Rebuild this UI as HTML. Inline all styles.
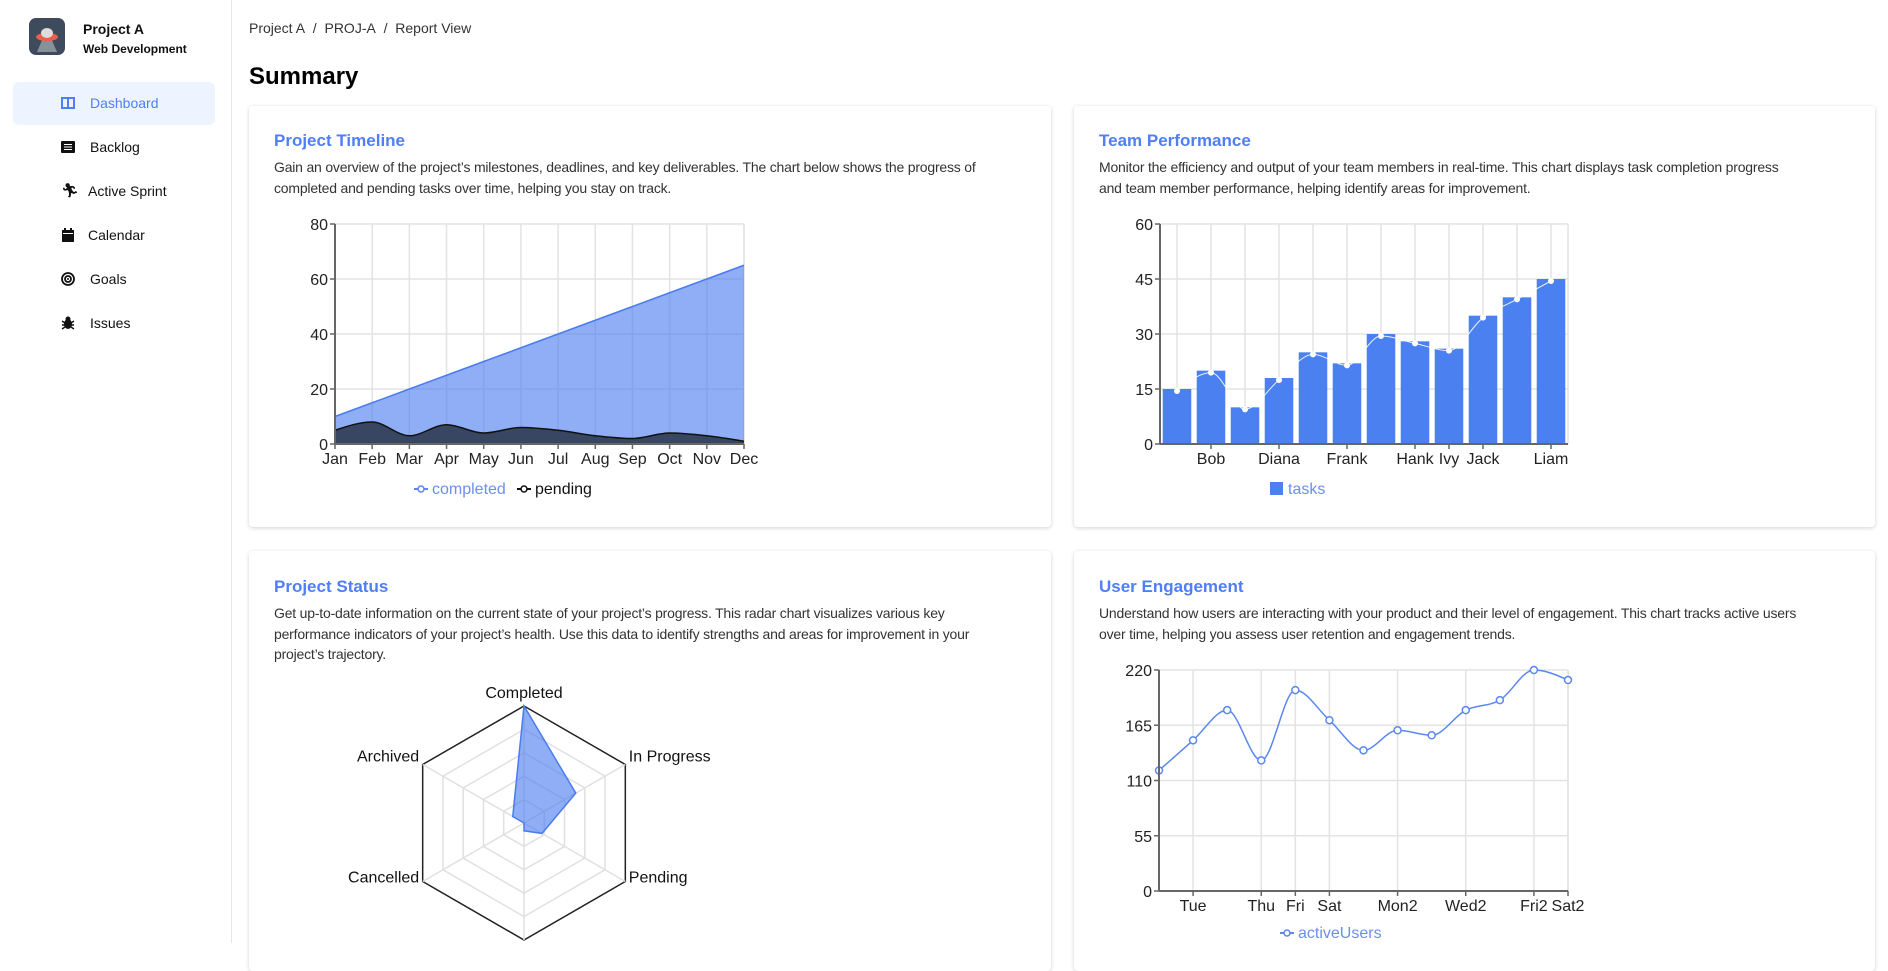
<!DOCTYPE html>
<html><head><meta charset="utf-8">
<style>
*{box-sizing:border-box;margin:0;padding:0}
body{width:1888px;height:943px;overflow:hidden;background:#fff;font-family:"Liberation Sans",sans-serif;color:#222;position:relative}
.sidebar{position:absolute;left:0;top:0;width:232px;height:943px;border-right:1px solid #e6e6e6;background:#fff}
.logo{position:absolute;left:29px;top:18px;width:36px;height:37px;border-radius:7px;background:#3d4b5c}
.pname{position:absolute;left:83px;top:21px;font-size:14px;font-weight:bold;color:#111}
.psub{position:absolute;left:83px;top:42px;font-size:12px;font-weight:bold;color:#111}
.nav{position:absolute;left:13px;width:202px;height:43px;border-radius:6px;font-size:14px;color:#111}
.nav.active{background:#eef4ff;color:#4f7ef7}
.nav .ic{position:absolute;left:48px;top:14px;width:14px;height:14px}
.nav .tx{position:absolute;left:77px;top:13px}
.crumb{position:absolute;left:249px;top:20px;font-size:14px;color:#333}
.title{position:absolute;left:249px;top:63px;font-size:24px;font-weight:bold;color:#000}
.card{position:absolute;background:#fff;border-radius:4px;box-shadow:0 1px 4px rgba(0,0,0,0.18)}
.ct{position:absolute;left:25px;font-size:17px;font-weight:bold;color:#4f7ef7}
.cd{position:absolute;left:25px;font-size:14px;line-height:20.5px;color:#333;white-space:nowrap;letter-spacing:-0.2px}
svg#charts{position:absolute;left:0;top:0}
svg text{font-family:"Liberation Sans",sans-serif}
</style></head><body>
<div class="sidebar">
  <div class="logo">
    <svg width="36" height="37"><polygon points="14,20 22,20 28,34 8,34" fill="#8a9098"/><ellipse cx="18" cy="19" rx="11" ry="4" fill="#e8604c"/><ellipse cx="18" cy="15" rx="6" ry="5" fill="#ddd"/></svg>
  </div>
  <div class="pname">Project A</div>
  <div class="psub">Web Development</div>
  <div class="nav active" style="top:82px"><svg class="ic" viewBox="0 0 14 14"><rect x="1" y="2" width="12" height="10" fill="none" stroke="#4f7ef7" stroke-width="2"/><line x1="7" y1="2" x2="7" y2="12" stroke="#4f7ef7" stroke-width="2"/></svg><span class="tx">Dashboard</span></div>
  <div class="nav" style="top:126px"><svg class="ic" viewBox="0 0 14 14"><rect x="0" y="1" width="14" height="12" rx="1" fill="#111"/><line x1="3" y1="4.5" x2="11" y2="4.5" stroke="#fff"/><line x1="3" y1="7" x2="11" y2="7" stroke="#fff"/><line x1="3" y1="9.5" x2="11" y2="9.5" stroke="#fff"/></svg><span class="tx">Backlog</span></div>
  <div class="nav" style="top:170px"><span class="ic" style="font-size:14px;top:12px">🏃&#xFE0E;</span><span class="tx" style="left:75px">Active Sprint</span></div>
  <div class="nav" style="top:214px"><svg class="ic" viewBox="0 0 14 14"><rect x="1" y="2" width="12" height="12" fill="#111"/><rect x="3" y="0" width="2" height="3" fill="#111"/><rect x="9" y="0" width="2" height="3" fill="#111"/><rect x="2" y="5" width="10" height="1" fill="#fff"/></svg><span class="tx" style="left:75px">Calendar</span></div>
  <div class="nav" style="top:258px"><svg class="ic" viewBox="0 0 14 14"><circle cx="7" cy="7" r="6" fill="none" stroke="#111" stroke-width="1.8"/><circle cx="7" cy="7" r="3" fill="none" stroke="#111" stroke-width="1.8"/><circle cx="7" cy="7" r="1" fill="#111"/></svg><span class="tx">Goals</span></div>
  <div class="nav" style="top:302px"><svg class="ic" viewBox="0 0 14 14"><ellipse cx="7" cy="8" rx="4" ry="5" fill="#111"/><circle cx="7" cy="3" r="2.5" fill="#111"/><path d="M1 5 L4 7 M1 9 H4 M1 13 L4 11 M13 5 L10 7 M13 9 H10 M13 13 L10 11" stroke="#111" stroke-width="1.4"/></svg><span class="tx">Issues</span></div>
</div>
<div class="crumb"><span>Project A</span>&nbsp;&nbsp;/&nbsp;&nbsp;<span>PROJ-A</span>&nbsp;&nbsp;/&nbsp;&nbsp;<span>Report View</span></div>
<div class="title">Summary</div>

<div class="card" style="left:249px;top:106px;width:802px;height:421px">
  <div class="ct" style="top:25px">Project Timeline</div>
  <div class="cd" style="top:51px">Gain an overview of the project’s milestones, deadlines, and key deliverables. The chart below shows the progress of<br>completed and pending tasks over time, helping you stay on track.</div>
</div>
<div class="card" style="left:1074px;top:106px;width:801px;height:421px">
  <div class="ct" style="top:25px">Team Performance</div>
  <div class="cd" style="top:51px">Monitor the efficiency and output of your team members in real-time. This chart displays task completion progress<br>and team member performance, helping identify areas for improvement.</div>
</div>
<div class="card" style="left:249px;top:551px;width:802px;height:420px">
  <div class="ct" style="top:26px">Project Status</div>
  <div class="cd" style="top:52px">Get up-to-date information on the current state of your project’s progress. This radar chart visualizes various key<br>performance indicators of your project’s health. Use this data to identify strengths and areas for improvement in your<br>project’s trajectory.</div>
</div>
<div class="card" style="left:1074px;top:551px;width:801px;height:420px">
  <div class="ct" style="top:26px">User Engagement</div>
  <div class="cd" style="top:52px">Understand how users are interacting with your product and their level of engagement. This chart tracks active users<br>over time, helping you assess user retention and engagement trends.</div>
</div>

<svg id="charts" width="1888" height="943"></svg>
<script>
// ---- Timeline data ----
const months = ["Jan","Feb","Mar","Apr","May","Jun","Jul","Aug","Sep","Oct","Nov","Dec"];
const completed = [10,15,20,25,30,35,40,45,50,55,60,65];
const pending = [5,8,3,7,4,6,5,3,2,4,3,1];
const timelineTicks = [0,20,40,60,80];
// ---- Team data ----
const members = ["Alice","Bob","Charlie","Diana","Eve","Frank","Grace","Hank","Ivy","Jack","Kate","Liam"];
const tasks = [15,20,10,18,25,22,30,28,26,35,40,45];
const memberLabelsShown = ["Bob","Diana","Frank","Hank","Ivy","Jack","Liam"];
const teamTicks = [0,15,30,45,60];
// ---- Radar data ----
const statusAxes = ["Completed","In Progress","Pending","On Hold","Cancelled","Archived"];
const statusValues = [45,23,8,3,0,5];
const statusMax = 45;
// ---- Engagement data ----
const days = ["Mon","Tue","Wed","Thu","Fri","Sat","Sun","Mon2","Tue2","Wed2","Thu2","Fri2","Sat2"];
const activeUsers = [120,150,180,130,200,170,140,160,155,180,190,220,210];
const dayLabelsShown = ["Tue","Thu","Fri","Sat","Mon2","Wed2","Fri2","Sat2"];
const userTicks = [0,55,110,165,220];

const NS="http://www.w3.org/2000/svg";
const svg=document.getElementById('charts');
function el(tag,attrs,parent){const e=document.createElementNS(NS,tag);for(const k in attrs)e.setAttribute(k,attrs[k]);(parent||svg).appendChild(e);return e;}
function txt(s,attrs,parent){const t=el('text',attrs,parent);t.textContent=s;return t;}
function monotone(p){
  const n=p.length;if(n<2)return "";
  const t=new Array(n);const s=[];
  for(let i=0;i<n-1;i++)s.push((p[i+1][1]-p[i][1])/(p[i+1][0]-p[i][0]));
  for(let i=1;i<n-1;i++){
    const h0=p[i][0]-p[i-1][0],h1=p[i+1][0]-p[i][0],s0=s[i-1],s1=s[i];
    const q=(s0*h1+s1*h0)/(h0+h1);
    t[i]=(Math.sign(s0)+Math.sign(s1))*Math.min(Math.abs(s0),Math.abs(s1),0.5*Math.abs(q))||0;
  }
  t[0]=n>2?(3*s[0]-t[1])/2:s[0];t[n-1]=n>2?(3*s[n-2]-t[n-2])/2:s[n-2];
  let d="M"+p[0][0]+","+p[0][1];
  for(let i=0;i<n-1;i++){const dx=(p[i+1][0]-p[i][0])/3;
    d+=" C"+(p[i][0]+dx)+","+(p[i][1]+dx*t[i])+" "+(p[i+1][0]-dx)+","+(p[i+1][1]-dx*t[i+1])+" "+p[i+1][0]+","+p[i+1][1];}
  return d;
}
function frame(g,x0,x1,y0,y1,ticks,ymax){
  const ys=v=>y1-(v/ymax)*(y1-y0);
  ticks.forEach(v=>{
    const gl=el('line',{x1:x0,x2:x1,y1:ys(v),y2:ys(v),stroke:'#e3e3e3','stroke-width':1.5},g);
    
    el('line',{x1:x0-5,x2:x0,y1:ys(v),y2:ys(v),stroke:'#666','stroke-width':1.5},g);
    const t=txt(String(v),{x:x0-7,y:ys(v)+6,'text-anchor':'end','font-size':16,fill:'#222'},g);
    
  });
  el('line',{x1:x1,x2:x1,y1:y0,y2:y1,stroke:'#e3e3e3','stroke-width':1.5},g);
  return ys;
}
function axes(g,x0,x1,y0,y1){
  el('line',{x1:x0,x2:x0,y1:y0,y2:y1,stroke:'#666','stroke-width':2},g);
  el('line',{x1:x0,x2:x1,y1:y1,y2:y1,stroke:'#666','stroke-width':2},g);
}

// ===== Timeline =====
(function(){
  const g=el('g',{});
  
  const X0=335,X1=744,Y0=224,Y1=444;
  const ys=frame(g,X0,X1,Y0,Y1,timelineTicks,80);
  const xs=i=>X0+i*(X1-X0)/(months.length-1);
  months.forEach((m,i)=>{
    el('line',{x1:xs(i),x2:xs(i),y1:Y0,y2:Y1,stroke:'#e3e3e3','stroke-width':1.5},g);
  });
  const cp=completed.map((v,i)=>[xs(i),ys(v)]);
  const ca=el('path',{d:"M"+cp.map(p=>p.join(",")).join(" L")+" L"+X1+","+Y1+" L"+X0+","+Y1+"Z",fill:'#4a7cf0','fill-opacity':0.62,stroke:'none'},g);
  
  el('path',{d:"M"+cp.map(p=>p.join(",")).join(" L"),fill:'none',stroke:'#4a7cf0','stroke-width':1.5},g);
  const pp=pending.map((v,i)=>[xs(i),ys(v)]);
  const pd=monotone(pp);
  const pa=el('path',{d:pd+" L"+X1+","+Y1+" L"+X0+","+Y1+"Z",fill:'#34405a','fill-opacity':0.95},g);
  
  el('path',{d:pd,fill:'none',stroke:'#111','stroke-width':1.5},g);
  axes(g,X0,X1,Y0,Y1);
  months.forEach((m,i)=>{
    el('line',{x1:xs(i),x2:xs(i),y1:Y1,y2:Y1+5,stroke:'#666','stroke-width':1.5},g);
    const t=txt(m,{x:xs(i),y:Y1+20,'text-anchor':'middle','font-size':16,fill:'#222'},g);
    
  });
  const lg=el('g',{},g);
  el('line',{x1:414,x2:428,y1:489,y2:489,stroke:'#5b87f0','stroke-width':2},lg);
  el('circle',{cx:421,cy:489,r:3,fill:'#fff',stroke:'#5b87f0','stroke-width':1.5},lg);
  txt('completed',{x:432,y:494,'font-size':16,fill:'#6b8ff0'},lg);
  const lp=el('g',{},g);
  el('line',{x1:517,x2:531,y1:489,y2:489,stroke:'#111','stroke-width':2},lp);
  el('circle',{cx:524,cy:489,r:3,fill:'#fff',stroke:'#111','stroke-width':1.5},lp);
  txt('pending',{x:535,y:494,'font-size':16,fill:'#111'},lp);
})();

// ===== Team =====
(function(){
  const g=el('g',{});
  
  const X0=1160,X1=1568,Y0=224,Y1=444;
  const ys=frame(g,X0,X1,Y0,Y1,teamTicks,60);
  const bw=(X1-X0)/members.length;
  const cx=i=>X0+bw*(i+0.5);
  members.forEach((m,i)=>{
    el('line',{x1:cx(i),x2:cx(i),y1:Y0,y2:Y1,stroke:'#e3e3e3','stroke-width':1.5},g);
  });
  tasks.forEach((v,i)=>{
    const r=el('rect',{x:X0+bw*i+bw*0.08,y:ys(v),width:bw*0.84,height:Y1-ys(v),fill:'#4a80ef'},g);
    
  });
  const lp=tasks.map((v,i)=>[cx(i),ys(v)+2]);
  el('path',{d:monotone(lp),fill:'none',stroke:'#fff','stroke-width':1,'stroke-opacity':0.9},g);
  lp.forEach(p=>{const c=el('circle',{cx:p[0],cy:p[1],r:3,fill:'#fff'},g);
    });
  axes(g,X0,X1,Y0,Y1);
  members.forEach((m,i)=>{
    if(memberLabelsShown.indexOf(m)<0)return;
    el('line',{x1:cx(i),x2:cx(i),y1:Y1,y2:Y1+5,stroke:'#666','stroke-width':1.5},g);
    const t=txt(m,{x:cx(i),y:Y1+20,'text-anchor':'middle','font-size':16,fill:'#222'},g);
    
  });
  const lg=el('g',{},g);
  el('rect',{x:1270,y:482,width:13,height:13,fill:'#4a80ef'},lg);
  txt('tasks',{x:1288,y:494,'font-size':16,fill:'#6b8ff0'},lg);
})();

// ===== Radar =====
(function(){
  const g=el('g',{});
  
  const CX=524,CY=823,R=117,n=statusAxes.length;
  const pt=(i,r)=>[CX+r*Math.sin(2*Math.PI*i/n),CY-r*Math.cos(2*Math.PI*i/n)];
  for(let k=1;k<=5;k++){
    const pts=statusAxes.map((a,i)=>pt(i,R*k/5).join(",")).join(" ");
    el('polygon',{points:pts,fill:'none',stroke:k===5?'#222':'#e0e0e0','stroke-width':1.5},g);
  }
  statusAxes.forEach((a,i)=>{const p=pt(i,R);el('line',{x1:CX,y1:CY,x2:p[0],y2:p[1],stroke:'#e0e0e0','stroke-width':1.5},g);});
  const vp=statusValues.map((v,i)=>pt(i,R*v/statusMax).join(",")).join(" ");
  const poly=el('polygon',{points:vp,fill:'#4a7cf0','fill-opacity':0.62,stroke:'#4a7cf0','stroke-width':1.5},g);
  
  statusAxes.forEach((a,i)=>{
    const p=pt(i,R+4);const s=Math.sin(2*Math.PI*i/n);
    const anchor=Math.abs(s)<0.1?'middle':(s>0?'start':'end');
    const dy=i===0?-4:(i===3?16:-1);
    const t=txt(a,{x:p[0],y:p[1]+dy,'text-anchor':anchor,'font-size':16,fill:'#111'},g);
    
  });
})();

// ===== Engagement =====
(function(){
  const g=el('g',{});
  
  const X0=1159,X1=1568,Y0=670,Y1=891;
  const ys=frame(g,X0,X1,Y0,Y1,userTicks,220);
  const xs=i=>X0+i*(X1-X0)/(days.length-1);
  days.forEach((d,i)=>{
    if(dayLabelsShown.indexOf(d)<0)return;
    el('line',{x1:xs(i),x2:xs(i),y1:Y0,y2:Y1,stroke:'#e3e3e3','stroke-width':1.5},g);
  });
  const pts=activeUsers.map((v,i)=>[xs(i),ys(v)]);
  const ln=el('path',{d:monotone(pts),fill:'none',stroke:'#5b87f0','stroke-width':1.5},g);
  
  pts.forEach(p=>{const c=el('circle',{cx:p[0],cy:p[1],r:3.5,fill:'#fff',stroke:'#5b87f0','stroke-width':1.5},g);
    });
  axes(g,X0,X1,Y0,Y1);
  days.forEach((d,i)=>{
    if(dayLabelsShown.indexOf(d)<0)return;
    el('line',{x1:xs(i),x2:xs(i),y1:Y1,y2:Y1+5,stroke:'#666','stroke-width':1.5},g);
    const t=txt(d,{x:xs(i),y:Y1+20,'text-anchor':'middle','font-size':16,fill:'#222'},g);
    
  });
  const lg=el('g',{},g);
  el('line',{x1:1280,x2:1294,y1:933,y2:933,stroke:'#5b87f0','stroke-width':2},lg);
  el('circle',{cx:1287,cy:933,r:3,fill:'#fff',stroke:'#5b87f0','stroke-width':1.5},lg);
  txt('activeUsers',{x:1298,y:938,'font-size':16,fill:'#6b8ff0'},lg);
})();
</script>
</body></html>
